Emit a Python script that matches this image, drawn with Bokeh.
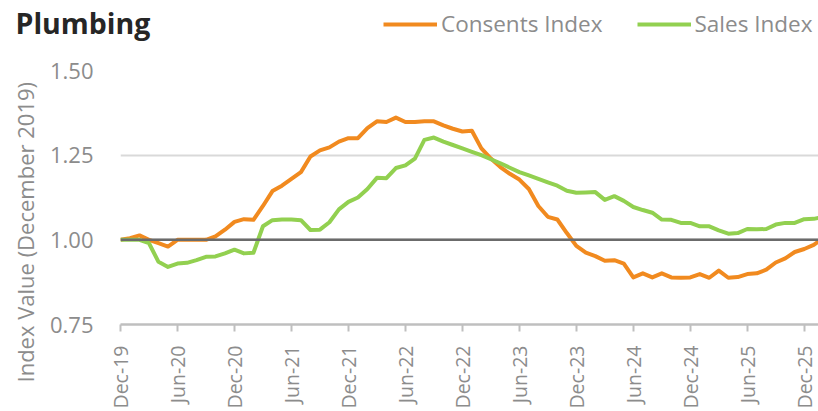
import math
from bokeh.plotting import figure
from bokeh.layouts import column
from bokeh.models import (Range1d, FixedTicker, Span, Legend, LegendItem, Title, Label)
from bokeh.embed import file_html
from bokeh.resources import INLINE

# ---- data (monthly index, Dec-19 = 1.00) ----
consents = [1.000, 1.005, 1.013, 1.000, 0.990, 0.980, 1.000, 1.000, 1.000, 1.000,
            1.010, 1.030, 1.053, 1.061, 1.059, 1.100, 1.144, 1.160, 1.180, 1.200,
            1.246, 1.264, 1.273, 1.290, 1.300, 1.300, 1.330, 1.350, 1.348, 1.361,
            1.348, 1.348, 1.350, 1.350, 1.338, 1.328, 1.320, 1.322, 1.270, 1.240,
            1.215, 1.195, 1.178, 1.150, 1.100, 1.068, 1.060, 1.020, 0.982, 0.962,
            0.952, 0.938, 0.940, 0.930, 0.889, 0.901, 0.889, 0.901, 0.889, 0.888,
            0.889, 0.899, 0.888, 0.909, 0.888, 0.890, 0.899, 0.901, 0.912, 0.933,
            0.945, 0.964, 0.973, 0.985, 1.005]
sales = [1.000, 1.000, 1.000, 0.990, 0.935, 0.920, 0.930, 0.932, 0.940, 0.950,
         0.951, 0.960, 0.971, 0.960, 0.962, 1.040, 1.058, 1.060, 1.060, 1.058,
         1.029, 1.030, 1.052, 1.090, 1.112, 1.125, 1.150, 1.183, 1.182, 1.212,
         1.220, 1.240, 1.295, 1.302, 1.290, 1.280, 1.270, 1.260, 1.250, 1.238,
         1.226, 1.213, 1.200, 1.190, 1.180, 1.170, 1.160, 1.145, 1.139, 1.140,
         1.141, 1.118, 1.129, 1.115, 1.097, 1.088, 1.080, 1.060, 1.059, 1.050,
         1.050, 1.040, 1.040, 1.028, 1.018, 1.020, 1.032, 1.031, 1.032, 1.045,
         1.050, 1.050, 1.061, 1.062, 1.068]
tick_labels = ["Dec-19", "Jun-20", "Dec-20", "Jun-21", "Dec-21", "Jun-22", "Dec-22",
               "Jun-23", "Dec-23", "Jun-24", "Dec-24", "Jun-25", "Dec-25"]
y_ticks = [0.75, 1.00, 1.25, 1.50]
months = list(range(len(consents)))

ORANGE = "#F18A1F"
GREEN = "#92D050"
GREY_TXT = "#8c8c8c"
FONT = "Open Sans"
W = 818
TOP_H = 44

# ---------- header strip: title + legend ----------
top = figure(width=W, height=TOP_H, output_backend="svg", toolbar_location=None,
             x_range=Range1d(0, W), y_range=Range1d(TOP_H, 0),
             x_axis_type=None, y_axis_type=None,
             min_border_left=0, min_border_right=0, min_border_top=0, min_border_bottom=0)
top.frame_align = False
top.outline_line_color = None
top.xgrid.grid_line_color = None
top.ygrid.grid_line_color = None
top.add_layout(Label(x=15, y=22, text="Plumbing", text_font=FONT, text_font_size="28.5px",
                     text_font_style="bold", text_color="#262626",
                     text_baseline="middle"))
# legend keys (single-point lines draw nothing themselves)
d1 = top.line(x=[0], y=[0], line_color=ORANGE, line_width=4)
d2 = top.line(x=[0], y=[0], line_color=GREEN, line_width=4)
legend = Legend(items=[LegendItem(label="Consents Index", renderers=[d1]),
                       LegendItem(label="Sales Index", renderers=[d2])],
                orientation="horizontal", location=(383, 5),
                glyph_width=54, glyph_height=20, label_height=20,
                label_standoff=4, spacing=34, padding=0, margin=0,
                border_line_color=None, background_fill_alpha=0,
                label_text_font=FONT, label_text_font_size="22.5px",
                label_text_color=GREY_TXT)
top.add_layout(legend, "center")

# ---------- main chart ----------
p = figure(width=W, height=411 - TOP_H, output_backend="svg", toolbar_location=None,
           x_range=Range1d(0, 73.5), y_range=Range1d(0.75, 1.50),
           min_border_left=120, min_border_right=0, min_border_top=26,
           min_border_bottom=84)
p.frame_align = False
p.outline_line_color = None

p.line(months, consents, line_color=ORANGE, line_width=4, line_join="round")
p.line(months, sales, line_color=GREEN, line_width=4, line_join="round")
p.add_layout(Span(location=1.0, dimension="width", line_color="#6b6b6b", line_width=2.5))

xa = p.xaxis[0]
xa.ticker = FixedTicker(ticks=[6 * i for i in range(len(tick_labels))])
xa.major_label_overrides = {6 * i: lab for i, lab in enumerate(tick_labels)}
xa.major_label_orientation = math.pi / 2
xa.major_label_text_font = FONT
xa.major_label_text_font_size = "19.5px"
xa.major_label_text_color = GREY_TXT
xa.axis_line_color = "#bfbfbf"
xa.axis_line_width = 2.5
xa.major_tick_line_color = "#bfbfbf"
xa.major_tick_line_width = 2
xa.major_tick_in = 0
xa.major_tick_out = 7
xa.minor_tick_line_color = None
xa.major_label_standoff = 14

ya = p.yaxis[0]
ya.ticker = FixedTicker(ticks=y_ticks)
ya.major_label_overrides = {v: f"{v:.2f}" for v in y_ticks}
ya.major_label_text_font = FONT
ya.major_label_text_font_size = "22px"
ya.major_label_text_color = GREY_TXT
ya.axis_line_color = None
ya.major_tick_line_color = None
ya.minor_tick_line_color = None
ya.major_label_standoff = 21

p.xgrid.grid_line_color = None
p.ygrid.grid_line_color = "#d9d9d9"
p.ygrid.grid_line_width = 2

p.add_layout(Title(text="Index Value (December 2019)", align="left", offset=-58,
                   text_font=FONT, text_font_size="22px", text_font_style="normal",
                   text_color=GREY_TXT, standoff=13), "left")

layout = column(top, p, spacing=0)
open("out.html", "w").write(file_html(layout, INLINE))
